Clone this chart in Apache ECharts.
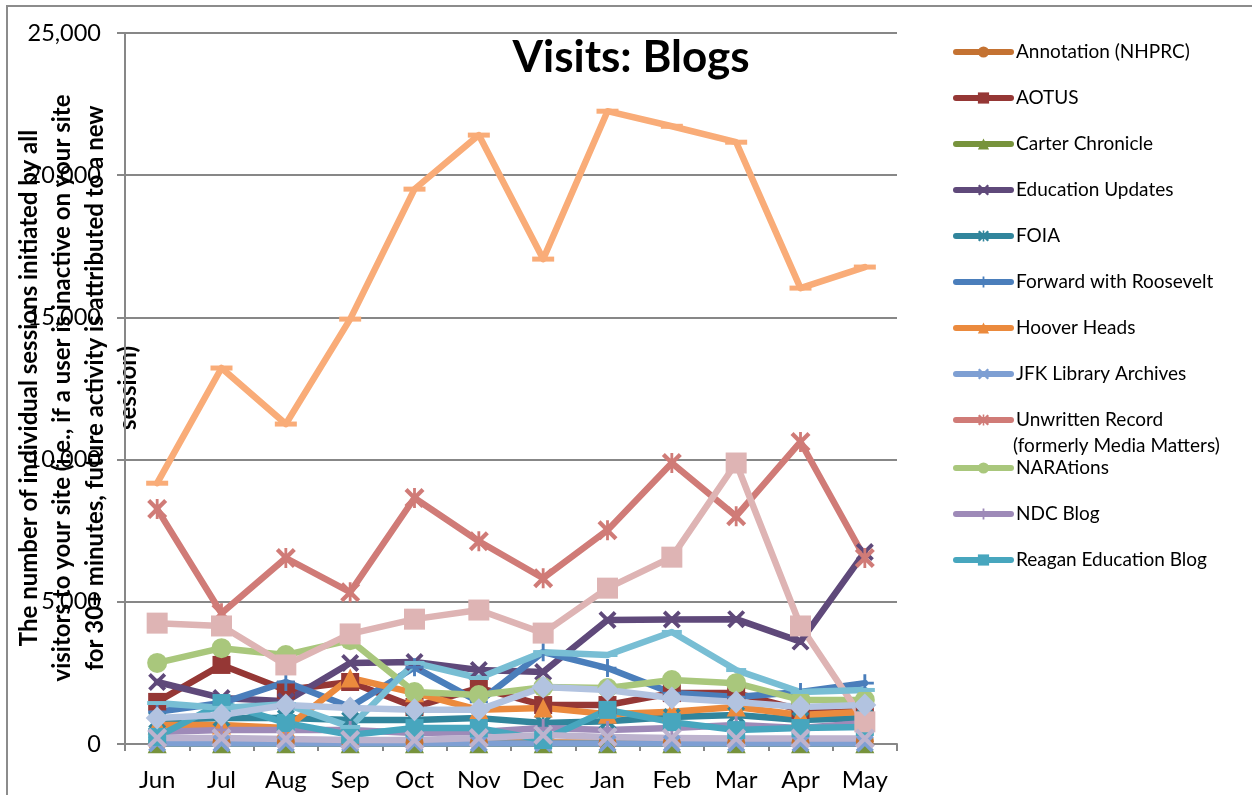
<!DOCTYPE html>
<html>
<head>
<meta charset="utf-8">
<script src="https://cdn.jsdelivr.net/npm/echarts@6/dist/echarts.min.js"></script>
<style>
html,body{margin:0;padding:0;background:#fff;}
#chart{width:1252px;height:795px;}
</style>
</head>
<body>
<div id="chart"></div>
<script>
// ---- data ----
const months = ['Jun','Jul','Aug','Sep','Oct','Nov','Dec','Jan','Feb','Mar','Apr','May'];
const yTicks = [0, 5000, 10000, 15000, 20000, 25000];

const annotation = [30, 60, 80, 70, 60, 60, 50, 40, 50, 50, 50, 100];
const aotus      = [1480, 2780, 1900, 2180, 1300, 1970, 1370, 1370, 1790, 1790, 1200, 1270];
const carter     = [5, 5, 5, 5, 5, 5, 5, 5, 5, 5, 5, 5];
const education  = [2180, 1620, 1500, 2850, 2880, 2600, 2530, 4360, 4380, 4390, 3600, 6750];
const foia       = [840, 910, 910, 840, 840, 910, 740, 800, 950, 1020, 840, 910];
const forward    = [1130, 1440, 2180, 1300, 2700, 1480, 3230, 2670, 1790, 1650, 1830, 2140];
const hoover     = [670, 670, 560, 2320, 1800, 1200, 1270, 1050, 1130, 1300, 1020, 1130];
const jfk        = [20, 20, 20, 20, 20, 20, 20, 20, 20, 20, 20, 20];
const unwritten  = [8260, 4600, 6540, 5340, 8650, 7130, 5830, 7520, 9880, 8010, 10620, 6540];
const narations  = [2850, 3370, 3130, 3650, 1830, 1720, 2000, 1970, 2250, 2140, 1550, 1550];
const ndc        = [420, 490, 490, 490, 390, 420, 560, 490, 560, 670, 560, 740];
const reagan     = [250, 1440, 740, 320, 560, 560, 140, 1200, 770, 490, 560, 600];
// series whose legend entries are cut off in the original
const other1 = [9170, 13220, 11250, 14940, 19510, 21410, 17050, 22250, 21720, 21160, 16030, 16770];
const other2 = [4250, 4150, 2780, 3870, 4390, 4710, 3900, 5480, 6570, 9880, 4150, 780];
const other3 = [1440, 1270, 1400, 600, 2850, 2320, 3230, 3130, 3940, 2600, 1830, 1900];
const other4 = [910, 1020, 1370, 1270, 1200, 1200, 2000, 1900, 1620, 1480, 1300, 1370];
const other5 = [210, 210, 180, 140, 140, 210, 320, 250, 210, 190, 190, 190];

const legendNames1 = ['Annotation (NHPRC)','AOTUS','Carter Chronicle','Education Updates','FOIA','Forward with Roosevelt','Hoover Heads','JFK Library Archives','Unwritten Record'];
const legendNames2 = ['NARAtions','NDC Blog','Reagan Education Blog'];

// ---- symbols ----
const X = 'path://M0,1.5 L1.5,0 L10,8.5 L8.5,10Z M8.5,0 L10,1.5 L1.5,10 L0,8.5Z';
const STAR = 'path://M0,1.5 L1.5,0 L10,8.5 L8.5,10Z M8.5,0 L10,1.5 L1.5,10 L0,8.5Z M4.3,0 H5.7 V10 H4.3Z';
const PLUS = 'path://M4.2,0 H5.8 V10 H4.2Z M0,4.2 H10 V5.8 H0Z';

function mk(name, data, color, symbol, size) {
  return {
    name: name, type: 'line', data: data,
    symbol: symbol, symbolSize: size,
    lineStyle: {color: color, width: 6.5, cap: 'round', join: 'round'},
    itemStyle: {color: color, borderWidth: 0},
    emphasis: {disabled: true},
    animation: false
  };
}

const series = [
  mk('Annotation (NHPRC)', annotation, '#C47232', 'circle', 18),
  mk('AOTUS', aotus, '#953735', 'rect', 18),
  mk('Carter Chronicle', carter, '#77933C', 'triangle', 19),
  mk('Education Updates', education, '#5F497A', X, 18),
  mk('FOIA', foia, '#31859C', STAR, 18),
  mk('Forward with Roosevelt', forward, '#4A7EBB', PLUS, 18),
  mk('Hoover Heads', hoover, '#EB8A3D', 'triangle', 19),
  mk('JFK Library Archives', jfk, '#7E9FD3', X, 18),
  mk('Unwritten Record', unwritten, '#D07B77', STAR, 20),
  mk('NARAtions', narations, '#A9C77C', 'circle', 20),
  mk('NDC Blog', ndc, '#9E8AB8', PLUS, 18),
  mk('Reagan Education Blog', reagan, '#47A6BE', 'rect', 18),
  mk('Series 13', other1, '#F9AC78', 'rect', [22, 5]),
  mk('Series 14', other2, '#DEB4B4', 'rect', 21),
  mk('Series 15', other3, '#78BED4', 'rect', [20, 4]),
  mk('Series 16', other4, '#B2C3E0', 'diamond', 23),
  mk('Series 17', other5, '#BDB3CE', X, 20)
];

const fontFam = 'Lato, "Open Sans", sans-serif';
const legendBase = {
  orient: 'vertical', left: 953, itemWidth: 55, itemHeight: 14, itemGap: 26, padding: 0,
  textStyle: {fontFamily: fontFam, fontSize: 19, color: '#000', lineHeight: 20},
  lineStyle: {width: 6, cap: 'round'},
  selectedMode: false
};

const option = {
  animation: false,
  textStyle: {fontFamily: fontFam},
  grid: {left: 125, right: 355, top: 33, bottom: 51, containLabel: false},
  legend: [
    Object.assign({}, legendBase, {top: 42, data: legendNames1}),
    Object.assign({}, legendBase, {top: 458, data: legendNames2})
  ],
  xAxis: {
    type: 'category', data: months, boundaryGap: true,
    axisLine: {lineStyle: {color: '#878787', width: 2}},
    axisTick: {show: true, interval: 0, length: 7, lineStyle: {color: '#878787', width: 2}},
    axisLabel: {fontSize: 24, color: '#000', margin: 24, fontFamily: fontFam, interval: 0}
  },
  yAxis: {
    type: 'value', min: yTicks[0], max: yTicks[yTicks.length - 1], interval: 5000,
    axisLine: {show: true, lineStyle: {color: '#878787', width: 2}},
    axisTick: {show: true, length: 8, lineStyle: {color: '#878787', width: 2}},
    splitLine: {show: true, lineStyle: {color: '#878787', width: 2}},
    axisLabel: {fontSize: 23.5, color: '#000', margin: 24, fontFamily: fontFam,
      formatter: v => v.toLocaleString('en-US')}
  },
  graphic: [
    {type: 'rect', shape: {x: 7, y: 6, width: 1300, height: 900}, style: {fill: 'none', stroke: '#8c8c8c', lineWidth: 2}, silent: true, z: -10},
    {type: 'text', x: 631, y: 58, style: {text: 'Visits: Blogs', fontFamily: fontFam, fontSize: 44, fontWeight: 'bold', fill: '#000', textAlign: 'center', textVerticalAlign: 'middle'}},
    {type: 'text', x: 1013, y: 446, style: {text: '(formerly Media Matters)', fontFamily: fontFam, fontSize: 19, fill: '#000', textVerticalAlign: 'middle'}},
    {type: 'text', x: 79, y: 388, rotation: Math.PI / 2,
      style: {text: 'The number of individual sessions initiated by all\nvisitors to your site (i.e., if a user is inactive on your site\nfor 30+ minutes, future activity is attributed to a new\nsession)',
        fontFamily: fontFam, fontSize: 24, fontWeight: 'bold', fill: '#000', lineHeight: 33, textAlign: 'center', textVerticalAlign: 'middle'}}
  ],
  series: series
};

const chart = echarts.init(document.getElementById('chart'), null, {renderer: 'canvas'});
chart.setOption(option);
</script>
</body>
</html>
